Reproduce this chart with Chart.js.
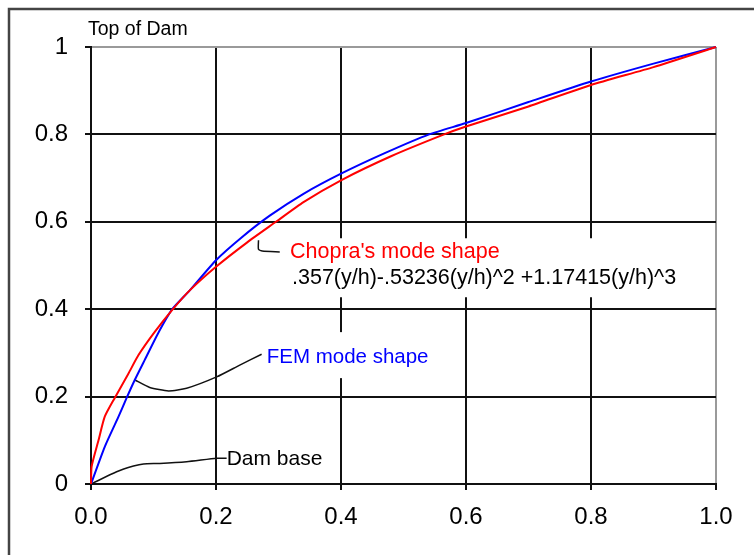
<!DOCTYPE html>
<html lang="en">
<head>
  <meta charset="UTF-8">
  <title>Dam mode shape</title>
  <style>
    body {
      margin: 0;
      background: #fff;
    }
  </style>
</head>
<body>
  <canvas id="chart" width="754" height="555"></canvas>
  <script src="https://cdn.jsdelivr.net/npm/chart.js@4.4.9/dist/chart.umd.min.js"></script>
  <script>
    // curves: x = mode shape value, y = y/h
    const chopraX = [0, 0.001, 0.012, 0.022, 0.038, 0.060, 0.076, 0.102, 0.131, 0.158, 0.200, 0.250, 0.296, 0.340, 0.400, 0.480, 0.565, 0.600, 0.700, 0.800, 0.900, 1.000]
    const chopraY = [0, 0.040, 0.100, 0.154, 0.197, 0.253, 0.295, 0.348, 0.400, 0.443, 0.497, 0.553, 0.600, 0.645, 0.695, 0.750, 0.800, 0.818, 0.864, 0.913, 0.954, 1.000]

    const femX = [0, 0.022, 0.044, 0.057, 0.070, 0.086, 0.107, 0.130, 0.158, 0.200, 0.240, 0.286, 0.340, 0.400, 0.470, 0.541, 0.600, 0.700, 0.800, 0.900, 1.000]
    const femY = [0, 0.085, 0.154, 0.197, 0.238, 0.284, 0.344, 0.400, 0.443, 0.512, 0.563, 0.614, 0.664, 0.710, 0.757, 0.800, 0.826, 0.874, 0.921, 0.962, 1.000]

    // leader lines from the labels to the curves
    const damLeadX = [0, 0.041, 0.068, 0.084, 0.110, 0.153, 0.201, 0.217]
    const damLeadY = [0, 0.028, 0.041, 0.046, 0.047, 0.051, 0.059, 0.059]
    const femLeadX = [0.0704, 0.094, 0.124, 0.153, 0.201, 0.238, 0.273]
    const femLeadY = [0.238, 0.221, 0.213, 0.219, 0.245, 0.272, 0.297]
    const chopraLeadX = [0.268, 0.268, 0.274, 0.302]
    const chopraLeadY = [0.558, 0.537, 0.533, 0.531]

    const xTicks = [0, 0.2, 0.4, 0.6, 0.8, 1.0]
    const yTicks = [0, 0.2, 0.4, 0.6, 0.8, 1]

    const FONT = '"Liberation Sans", Arial, sans-serif'

    function points(xs, ys) {
      return xs.map((x, i) => ({ x: x, y: ys[i] }))
    }

    function curve(xs, ys, color, width) {
      return {
        data: points(xs, ys),
        showLine: true,
        borderColor: color,
        borderWidth: width,
        pointRadius: 0,
        tension: 0.2,
        clip: 4
      }
    }

    // text labels with white boxes behind them (they hide the grid)
    const labelPlugin = {
      id: 'labels',
      beforeDraw(chart) {
        const ctx = chart.ctx
        ctx.save()
        ctx.strokeStyle = '#444'
        ctx.lineWidth = 2.5
        ctx.strokeRect(9, 9, 800, 600)
        ctx.restore()
      },
      beforeDatasetsDraw(chart) {
        const ctx = chart.ctx
        const xs = chart.scales.x
        const ys = chart.scales.y
        const px = v => xs.getPixelForValue(v)
        const py = v => ys.getPixelForValue(v)
        ctx.save()
        ctx.textBaseline = 'alphabetic'
        ctx.textAlign = 'left'

        // Chopra + formula share one box
        ctx.font = '21.5px ' + FONT
        const cx = px(0.3184), cy = py(0.5166)
        const fx = px(0.3216), fy = py(0.4571)
        const fw = ctx.measureText('.357(y/h)-.53236(y/h)^2 +1.17415(y/h)^3').width
        ctx.fillStyle = '#fff'
        ctx.fillRect(cx - 8, cy - 20, fx + fw + 12 - (cx - 8), fy + 13 - (cy - 20))
        ctx.fillStyle = '#ff0000'
        ctx.fillText("Chopra's mode shape", cx, cy)
        ctx.fillStyle = '#000'
        ctx.fillText('.357(y/h)-.53236(y/h)^2 +1.17415(y/h)^3', fx, fy)

        // FEM
        ctx.font = '20.5px ' + FONT
        const ex = px(0.2811), ey = py(0.2766)
        const ew = ctx.measureText('FEM mode shape').width
        ctx.fillStyle = '#fff'
        ctx.fillRect(ex - 5, ey - 31, ew + 12, 46)
        ctx.fillStyle = '#0000ff'
        ctx.fillText('FEM mode shape', ex, ey)

        // Dam base
        ctx.font = '21px ' + FONT
        const dx = px(0.2171), dy = py(0.0434)
        const dw = ctx.measureText('Dam base').width
        ctx.fillStyle = '#fff'
        ctx.fillRect(dx - 2, dy - 18, dw + 6, 24)
        ctx.fillStyle = '#000'
        ctx.fillText('Dam base', dx, dy)

        // Top of Dam
        ctx.font = '19.5px ' + FONT
        ctx.fillText('Top of Dam', px(-0.0048), py(1.0286))
        ctx.restore()
      }
    }

    const edgeColor = ctx => ctx.tick && ctx.tick.value === 1 ? '#9a9a9a' : '#111'

    new Chart(document.getElementById('chart'), {
      type: 'scatter',
      data: {
        datasets: [
          curve(chopraX, chopraY, '#ff0000', 2),
          curve(femX, femY, '#0000ff', 2),
          curve(damLeadX, damLeadY, '#111', 1.5),
          curve(femLeadX, femLeadY, '#111', 1.5),
          curve(chopraLeadX, chopraLeadY, '#111', 1.5)
        ]
      },
      options: {
        responsive: false,
        animation: false,
        layout: { padding: { top: 47, right: 38, left: 0, bottom: 0 } },
        plugins: {
          legend: { display: false },
          tooltip: { enabled: false }
        },
        scales: {
          x: {
            type: 'linear',
            min: 0,
            max: 1,
            afterFit(scale) { scale.height = 71 },
            afterBuildTicks(scale) { scale.ticks = xTicks.map(v => ({ value: v })) },
            ticks: {
              color: '#000',
              font: { family: FONT, size: 24 },
              padding: 13,
              maxRotation: 0,
              callback: v => v.toFixed(1)
            },
            grid: { color: edgeColor, lineWidth: 2, tickLength: 6, tickColor: '#111', tickWidth: 2 },
            border: { color: '#111', width: 2 }
          },
          y: {
            type: 'linear',
            min: 0,
            max: 1,
            afterFit(scale) { scale.width = 91 },
            afterBuildTicks(scale) { scale.ticks = yTicks.map(v => ({ value: v })) },
            ticks: {
              color: '#000',
              font: { family: FONT, size: 24 },
              padding: 17,
              callback: v => String(v)
            },
            grid: { color: edgeColor, lineWidth: 2, tickLength: 6, tickColor: '#111', tickWidth: 2 },
            border: { color: '#111', width: 2 }
          }
        }
      },
      plugins: [labelPlugin]
    })
  </script>
</body>
</html>
